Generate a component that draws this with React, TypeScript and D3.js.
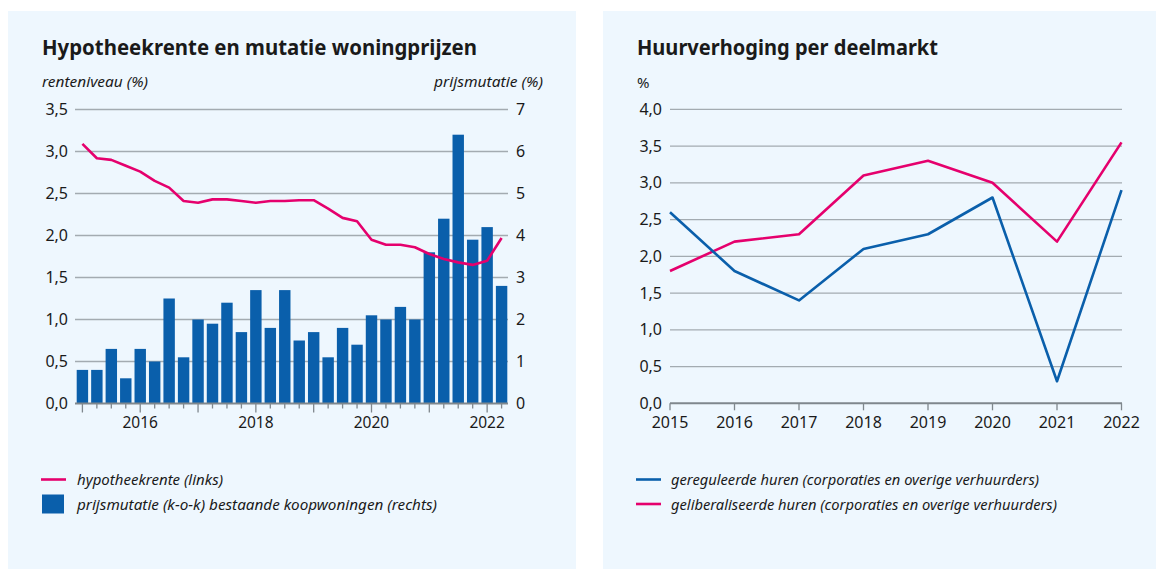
import React from "react";
import * as d3 from "d3";

// ---------- Data: left chart (quarterly 2015K1 - 2022K2) ----------
const quarters: string[] = [];
for (let y = 2015; y <= 2022; y++) {
  for (let q = 1; q <= 4; q++) {
    if (y === 2022 && q > 2) break;
    quarters.push(`${y}K${q}`);
  }
}
const prijsmutatie = [
  0.8, 0.8, 1.3, 0.6, 1.3, 1.0, 2.5, 1.1, 2.0, 1.9, 2.4, 1.7, 2.7, 1.8, 2.7,
  1.5, 1.7, 1.1, 1.8, 1.4, 2.1, 2.0, 2.3, 2.0, 3.6, 4.4, 6.4, 3.9, 4.2, 2.8,
];
const hypotheekrente = [
  3.09, 2.92, 2.9, 2.83, 2.76, 2.65, 2.57, 2.41, 2.39, 2.43, 2.43, 2.41, 2.39,
  2.41, 2.41, 2.42, 2.42, 2.32, 2.21, 2.17, 1.95, 1.89, 1.89, 1.86, 1.78, 1.72,
  1.68, 1.65, 1.7, 1.97,
];
const leftTicks = [0, 0.5, 1, 1.5, 2, 2.5, 3, 3.5];
const rightTicks = [0, 1, 2, 3, 4, 5, 6, 7];
const yearLabelsLeft = ["2016", "2018", "2020", "2022"];

// ---------- Data: right chart (annual) ----------
const years = ["2015", "2016", "2017", "2018", "2019", "2020", "2021", "2022"];
const gereguleerd = [2.6, 1.8, 1.4, 2.1, 2.3, 2.8, 0.3, 2.9];
const geliberaliseerd = [1.8, 2.2, 2.3, 3.1, 3.3, 3.0, 2.2, 3.55];
const huurTicks = [0, 0.5, 1, 1.5, 2, 2.5, 3, 3.5, 4];

const PINK = "#e5006d";
const BLUE = "#0a5fab";
const BG = "#eef7fe";
const GRID = "#a3abb1";
const AXIS = "#7f878d";
const TXT = "#1a1a1a";
const FONT = "'Noto Sans', sans-serif";

const fmt = (v: number) => v.toFixed(1).replace(".", ",");

function LeftChart() {
  const x = d3
    .scaleBand<string>()
    .domain(quarters)
    .range([76.7, 507.3])
    .paddingInner(0.21)
    .paddingOuter(0);
  const yL = d3.scaleLinear().domain([0, 3.5]).range([403.5, 109.5]);
  const yR = d3.scaleLinear().domain([0, 7]).range([403.5, 109.5]);
  const gx0 = 75;
  const gx1 = 508;
  const line = d3
    .line<number>()
    .x((_, i) => (x(quarters[i]) as number) + x.bandwidth() / 2)
    .y((d) => yL(d));
  return (
    <g>
      <rect x={8} y={11} width={568} height={558} fill={BG} />
      <text
        x={42}
        y={55}
        fontFamily={FONT}
        fontWeight={700}
        fontSize={22}
        fill={TXT}
        textLength={435}
        lengthAdjust="spacingAndGlyphs"
      >
        Hypotheekrente en mutatie woningprijzen
      </text>
      <text x={42} y={87} fontFamily={FONT} fontStyle="italic" fontSize={14.5} fill={TXT}
        textLength={106} lengthAdjust="spacingAndGlyphs">
        renteniveau (%)
      </text>
      <text x={543} y={87} textAnchor="end" fontFamily={FONT} fontStyle="italic" fontSize={14.5} fill={TXT}
        textLength={109} lengthAdjust="spacingAndGlyphs">
        prijsmutatie (%)
      </text>
      {leftTicks.slice(1).map((t) => (
        <line key={t} x1={gx0} x2={gx1} y1={yL(t)} y2={yL(t)} stroke={GRID} strokeWidth={1.3} />
      ))}
      {leftTicks.map((t) => (
        <text key={"l" + t} x={68} y={yL(t) + 5.5} textAnchor="end" fontFamily={FONT} fontSize={16} fill={TXT}>
          {fmt(t)}
        </text>
      ))}
      {rightTicks.map((t) => (
        <text key={"r" + t} x={516} y={yR(t) + 5.5} fontFamily={FONT} fontSize={16} fill={TXT}>
          {t}
        </text>
      ))}
      {prijsmutatie.map((v, i) => (
        <rect
          key={quarters[i]}
          x={x(quarters[i])}
          y={yR(v)}
          width={x.bandwidth()}
          height={yR(0) - yR(v)}
          fill={BLUE}
        />
      ))}
      <line x1={gx0} x2={gx1} y1={yL(0)} y2={yL(0)} stroke={AXIS} strokeWidth={2} />
      {quarters.map((q) => {
        const cx = (x(q) as number) + x.bandwidth() / 2;
        const major = q.endsWith("K1");
        return (
          <line key={"t" + q} x1={cx} x2={cx} y1={yL(0)} y2={yL(0) + (major ? 9 : 5)} stroke={AXIS} strokeWidth={1.3} />
        );
      })}
      {yearLabelsLeft.map((yl) => {
        const cx = (x(yl + "K1") as number) + x.bandwidth() / 2;
        return (
          <text key={yl} x={cx} y={428} textAnchor="middle" fontFamily={FONT} fontSize={15.5} fill={TXT}>
            {yl}
          </text>
        );
      })}
      <path d={line(hypotheekrente) || ""} fill="none" stroke={PINK} strokeWidth={2.6} strokeLinejoin="round" />
      {/* legend */}
      <line x1={41} x2={66} y1={479.5} y2={479.5} stroke={PINK} strokeWidth={2.6} />
      <text x={77} y={485} fontFamily={FONT} fontStyle="italic" fontSize={15} fill={TXT}
        textLength={146} lengthAdjust="spacingAndGlyphs">
        hypotheekrente (links)
      </text>
      <rect x={42} y={494.5} width={22} height={19} fill={BLUE} />
      <text x={77} y={510} fontFamily={FONT} fontStyle="italic" fontSize={15} fill={TXT}
        textLength={360} lengthAdjust="spacingAndGlyphs">
        prijsmutatie (k-o-k) bestaande koopwoningen (rechts)
      </text>
    </g>
  );
}

function RightChart() {
  const x = d3.scalePoint<string>().domain(years).range([670, 1121.5]);
  const y = d3.scaleLinear().domain([0, 4]).range([403.3, 109.3]);
  const line = d3
    .line<number>()
    .x((_, i) => x(years[i]) as number)
    .y((d) => y(d));
  return (
    <g>
      <rect x={603} y={11} width={553} height={558} fill={BG} />
      <text
        x={637}
        y={55}
        fontFamily={FONT}
        fontWeight={700}
        fontSize={22}
        fill={TXT}
        textLength={301}
        lengthAdjust="spacingAndGlyphs"
      >
        Huurverhoging per deelmarkt
      </text>
      <text x={637} y={88} fontFamily={FONT} fontSize={15} fill={TXT}>
        %
      </text>
      {huurTicks.slice(1).map((t) => (
        <line key={t} x1={670} x2={1122} y1={y(t)} y2={y(t)} stroke={GRID} strokeWidth={1.3} />
      ))}
      {huurTicks.map((t) => (
        <text key={"l" + t} x={662} y={y(t) + 5.5} textAnchor="end" fontFamily={FONT} fontSize={16} fill={TXT}>
          {fmt(t)}
        </text>
      ))}
      <line x1={670} x2={1122} y1={y(0)} y2={y(0)} stroke={AXIS} strokeWidth={2} />
      {years.map((yr) => (
        <g key={yr}>
          <line x1={x(yr)} x2={x(yr)} y1={y(0)} y2={y(0) + 7} stroke={AXIS} strokeWidth={1.3} />
          <text x={x(yr)} y={428} textAnchor="middle" fontFamily={FONT} fontSize={16} fill={TXT}>
            {yr}
          </text>
        </g>
      ))}
      <path d={line(geliberaliseerd) || ""} fill="none" stroke={PINK} strokeWidth={2.6} strokeLinejoin="round" />
      <path d={line(gereguleerd) || ""} fill="none" stroke={BLUE} strokeWidth={2.6} strokeLinejoin="round" />
      {/* legend */}
      <line x1={636} x2={661} y1={479.5} y2={479.5} stroke={BLUE} strokeWidth={2.6} />
      <text x={671} y={485} fontFamily={FONT} fontStyle="italic" fontSize={15} fill={TXT}
        textLength={368} lengthAdjust="spacingAndGlyphs">
        gereguleerde huren (corporaties en overige verhuurders)
      </text>
      <line x1={636} x2={661} y1={504} y2={504} stroke={PINK} strokeWidth={2.6} />
      <text x={671} y={509.5} fontFamily={FONT} fontStyle="italic" fontSize={15} fill={TXT}
        textLength={386} lengthAdjust="spacingAndGlyphs">
        geliberaliseerde huren (corporaties en overige verhuurders)
      </text>
    </g>
  );
}

export default function App() {
  return (
    <svg
      width={1156}
      height={569}
      style={{ position: "absolute", left: 0, top: 0, background: "#ffffff" }}
    >
      <LeftChart />
      <RightChart />
    </svg>
  );
}
